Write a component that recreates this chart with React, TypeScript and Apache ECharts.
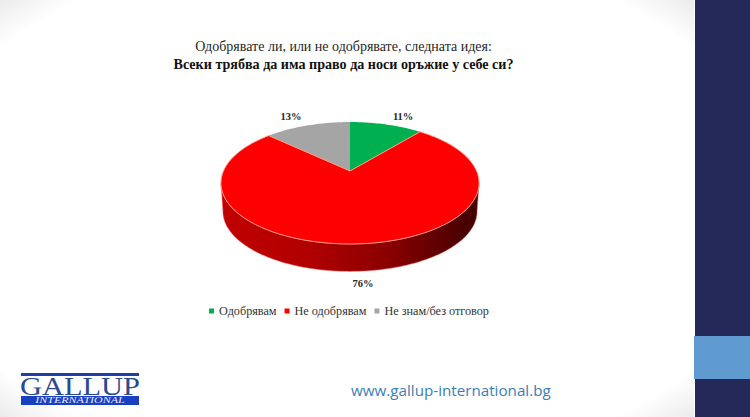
import React, { useEffect, useRef } from "react";
import * as echarts from "echarts";

const titleLine = "Одобрявате ли, или не одобрявате, следната идея:";
const questionLine = "Всеки трябва да има право да носи оръжие у себе си?";
const categories = ["Одобрявам", "Не одобрявам", "Не знам/без отговор"];
const values = [11, 76, 13];
const colors = ["#00b050", "#ff0000", "#a5a5a5"];
const website = "www.gallup-international.bg";

const SERIF = "'Liberation Serif', serif";
const total = values.reduce((a, b) => a + b, 0);
const CX = 350, CY = 171;
const PERSP = -0.197, RX = 126.5, RY = 58.6, DEPTH = 28.5;
const labelOffsets = [[17, -8], [3, 40], [-16.5, -9]];

function project(theta: number, r = 1, dy = 0, k = 1): number[] {
  const u = Math.sin(theta) * r;
  const v = -Math.cos(theta) * r;
  const d = 1 + PERSP * v;
  return [CX + (RX * k * u) / d, CY + dy + (RY * k * v) / d];
}

function arcPoints(a: number, b: number, dy = 0, k = 1): number[][] {
  const n = Math.max(2, Math.ceil(Math.abs(b - a) / 0.02));
  const pts: number[][] = [];
  for (let i = 0; i <= n; i++) pts.push(project(a + ((b - a) * i) / n, 1, dy, k));
  return pts;
}

const FRONT_A = Math.acos(PERSP);
const FRONT_B = 2 * Math.PI - FRONT_A;

function sliceItem(index: number) {
  return (_params: any, api: any) => {
    const value = api.value(0);
    const before = api.value(1);
    const a = (before / total) * 2 * Math.PI;
    const b = ((before + value) / total) * 2 * Math.PI;
    const children: any[] = [];
    const wa = Math.max(a, FRONT_A);
    const wb = Math.min(b, FRONT_B);
    if (wb > wa) {
      const top = arcPoints(wa, wb);
      const bottom = arcPoints(wb, wa, DEPTH, 0.985);
      children.push({
        type: "polygon",
        shape: { points: top.concat(bottom) },
        style: {
          fill: new echarts.graphic.LinearGradient(0, 0, 1, 0, [
            { offset: 0, color: "#c00000" },
            { offset: 0.35, color: "#b00000" },
            { offset: 0.65, color: "#8a0000" },
            { offset: 1, color: "#3d0000" },
          ]),
          stroke: "#ff6a6a",
          lineWidth: 0.5,
        },
      });
    }
    children.push({
      type: "polygon",
      shape: { points: [[CX, CY], ...arcPoints(a, b)] },
      style: index === 1
        ? { fill: colors[index], stroke: "#ff9a8a", lineWidth: 1 }
        : { fill: colors[index] },
    });
    const mid = project((a + b) / 2);
    const off = labelOffsets[index];
    children.push({
      type: "text",
      style: {
        text: value + "%",
        x: mid[0] + off[0],
        y: mid[1] + off[1],
        textAlign: "center",
        textVerticalAlign: "middle",
        font: "bold 10.5px " + SERIF,
        fill: "#262626",
      },
    });
    return { type: "group", children };
  };
}

export default function App() {
  const ref = useRef<HTMLDivElement>(null);
  useEffect(() => {
    document.body.style.margin = "0";
    const chart = echarts.init(ref.current!, undefined, { renderer: "svg", width: 750, height: 417 });
    let running = 0;
    const series = categories.map((name, i) => {
      const before = running;
      running += values[i];
      return {
        type: "custom",
        name,
        coordinateSystem: "none",
        silent: true,
        z: i === 1 ? 3 : 2,
        itemStyle: { color: colors[i] },
        encode: {},
        data: [[values[i], before]],
        renderItem: sliceItem(i),
      };
    });
    chart.setOption({
      animation: false,
      backgroundColor: "#ffffff",
      title: {
        text: titleLine,
        subtext: questionLine,
        left: 343.5,
        top: 38,
        textAlign: "center",
        itemGap: 2,
        padding: 0,
        textStyle: { fontFamily: SERIF, fontSize: 14, fontWeight: "normal", color: "#262626", lineHeight: 16 },
        subtextStyle: { fontFamily: SERIF, fontSize: 14.1, fontWeight: "bold", color: "#111111", lineHeight: 16 },
      },
      legend: {
        left: 209,
        top: 305,
        padding: 0,
        itemGap: 8,
        itemWidth: 5,
        itemHeight: 5,
        icon: "rect",
        selectedMode: false,
        data: categories,
        textStyle: { fontFamily: SERIF, fontSize: 12.2, color: "#333333", padding: [0, 0, 0, 0] },
      },
      graphic: [
        {
          type: "rect", z: -10, silent: true, scaleY: 0.7,
          shape: { x: 0, y: 0, width: 694, height: 596 },
          style: {
            fill: new echarts.graphic.RadialGradient(0.5, 0.5, 0.767, [
              { offset: 0, color: "#ffffff" },
              { offset: 0.82, color: "#ffffff" },
              { offset: 1, color: "#dcdcdc" },
            ]),
          },
        },
        { type: "rect", z: -9, silent: true, shape: { x: 695, y: 0, width: 55, height: 417 }, style: { fill: "#25295a" } },
        { type: "rect", z: -8, silent: true, shape: { x: 694, y: 336, width: 56, height: 43 }, style: { fill: "#5f9bd1" } },
        { type: "rect", z: 1, silent: true, shape: { x: 21, y: 373, width: 118, height: 3 }, style: { fill: "#1f3fa8" } },
        {
          type: "text", z: 1, silent: true, x: 20, y: 386, scaleX: 1.17,
          style: { text: "GALLUP", x: 0, y: 0, textVerticalAlign: "middle", font: "26px " + SERIF, fill: "#2a4a90" },
        },
        { type: "rect", z: 1, silent: true, shape: { x: 21, y: 396, width: 118, height: 9 }, style: { fill: "#1a3fc0" } },
        {
          type: "text", z: 2, silent: true, x: 80, y: 400.5, scaleX: 1.6,
          style: { text: "INTERNATIONAL", x: 0, y: 0, textAlign: "center", textVerticalAlign: "middle", font: "italic 7.5px " + SERIF, fill: "#e8ecff" },
        },
        {
          type: "text", z: 1, silent: true,
          style: { text: website, x: 351, y: 390, textVerticalAlign: "middle", font: "15.2px 'Open Sans', sans-serif", fill: "#3b7db8" },
        },
      ],
      series,
    });
    return () => chart.dispose();
  }, []);
  return <div ref={ref} style={{ position: "absolute", left: 0, top: 0, width: 750, height: 417 }} />;
}
